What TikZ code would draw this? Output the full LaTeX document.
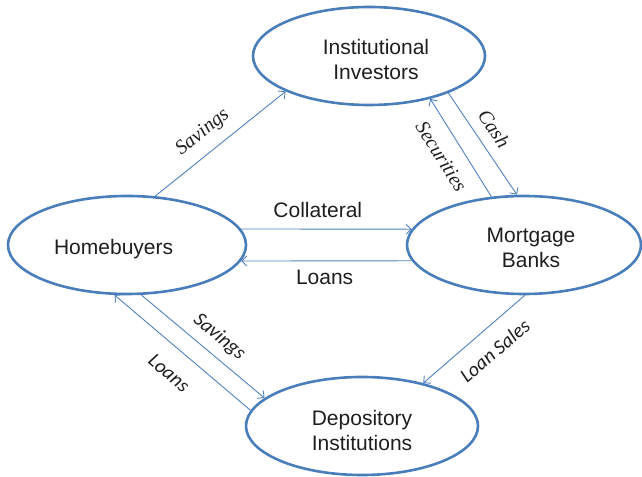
\documentclass[tikz,border=0pt]{standalone}
\usepackage{fontspec}
\setmainfont{Liberation Sans}
\newfontfamily\serifit{Liberation Serif}
\newfontfamily\calib{Carlito}
\usetikzlibrary{arrows.meta,shapes.geometric}
\definecolor{ellblue}{RGB}{74,126,187}
\definecolor{arrblue}{RGB}{79,129,189}
\definecolor{txt}{RGB}{30,30,30}
\begin{document}
\begin{tikzpicture}[x=1bp,y=1bp,
  oval/.style={ellipse, draw=ellblue, line width=2.6bp, minimum height=98bp, inner sep=0pt},
  boxtext/.style={font=\fontsize{21bp}{25bp}\selectfont, text=txt, align=center, inner sep=0pt},
  flow/.style={draw=arrblue, line width=0.9bp, -{Straight Barb[length=5bp,width=10bp]}},
  lblserif/.style={font=\serifit\itshape\fontsize{20bp}{23bp}\selectfont, text=txt, sloped, inner sep=0pt},
  lblcal/.style={font=\calib\itshape\fontsize{20bp}{23bp}\selectfont, text=txt, sloped, inner sep=0pt},
  lblsans/.style={font=\fontsize{21bp}{25bp}\selectfont, text=txt, inner sep=0pt}
]
\useasboundingbox (0,0) rectangle (642,477);
\node[oval, minimum width=232bp] (ii) at (369,421) {};
\node[oval, minimum width=238bp] (hb) at (127,232) {};
\node[oval, minimum width=234bp] (mb) at (524,232) {};
\node[oval, minimum width=232bp] (di) at (362,51) {};
\node[boxtext] (iit) at (376,417.7) {Institutional\\Investors};
\node[boxtext] (hbt) at (113.6,228) {Homebuyers};
\node[boxtext] (mbt) at (531,228.8) {Mortgage\\Banks};
\node[boxtext] (dit) at (362,47) {Depository\\Institutions};
\draw[flow] (hb.60) -- node[lblserif, pos=.46, above=10.5bp] (l1) {Savings} (ii.203);
\draw[flow] (mb.124) -- node[lblserif, pos=.525, below=14bp] (l2) {Securities} (ii.-35);
\draw[flow] (ii.-25) -- node[lblserif, pos=.45, above=10.5bp] (l3) {Cash} (mb.98);
\draw[flow] (hb.8) -- node[lblsans, pos=.45, above=11.3bp] (l4) {Collateral} (mb.172);
\draw[flow] (mb.188) -- node[lblsans, pos=.51, below=8.4bp] (l5) {Loans} (hb.-8);
\draw[flow] (hb.286) -- node[lblcal, pos=.54, above=8.8bp] (l6) {Savings} (di.164);
\draw[flow] (di.172) -- node[lblcal, pos=.484, below=17.3bp] (l7) {Loans} (hb.256);
\draw[flow] (mb.271) -- node[lblcal, pos=.44, below=14.9bp] (l8) {Loan Sales} (di.35);
\end{tikzpicture}
\end{document}
